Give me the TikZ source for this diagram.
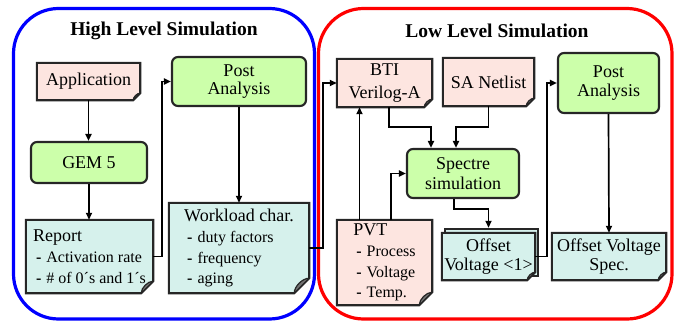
\documentclass[tikz,border=0pt]{standalone}
\usepackage{fontspec}
\setmainfont{Liberation Serif}
\usetikzlibrary{arrows.meta,backgrounds,calc}
\definecolor{pinkf}{RGB}{253,229,224}
\definecolor{greenf}{RGB}{204,255,170}
\definecolor{cyanf}{RGB}{214,241,236}
\newcommand\headfont{\fontsize{18}{20.5}\selectfont}
\newcommand\litem[1]{\hspace*{3pt}\textbf{-}\hspace{5pt}#1}
\newcommand\docframe[3]{%
  \begin{pgfonlayer}{background}
  \filldraw[docline,fill=#2] (#1.north west) -- (#1.north east) -- ([yshift=#3pt]#1.south east)
     -- ([xshift=-#3pt]#1.south east) -- (#1.south west) -- cycle;
  \filldraw[docline,line width=1.2pt,fill=black!55,line join=round] ([xshift=-#3pt]#1.south east)
     .. controls ([xshift=-1.0*#3pt,yshift=0.45*#3pt]#1.south east) and ([xshift=-0.45*#3pt,yshift=1.0*#3pt]#1.south east)
     .. ([yshift=#3pt]#1.south east) -- cycle;
  \end{pgfonlayer}}
\tikzset{
  docline/.style={draw=black!85, line width=2.1pt, line join=miter},
  docnode/.style={inner sep=0pt, font=\fontsize{18}{18.5}\selectfont, align=center},
  listnode/.style={inner sep=0pt, font=\fontsize{16}{20.5}\selectfont, align=left},
  rbox/.style={draw=black!85, line width=2.1pt, rounded corners=6pt, fill=greenf, inner sep=0pt,
     font=\fontsize{18}{18.5}\selectfont, align=center},
  arr/.style={line width=1.7pt, -{Triangle[length=7pt,width=6pt]}},
  frame/.style={line width=3.2pt, rounded corners=45pt},
  titletext/.style={font=\fontsize{19.5}{22}\selectfont\bfseries, anchor=base}
}
\begin{document}
\begin{tikzpicture}[x=1pt,y=-1pt]
\useasboundingbox (0,0) rectangle (683,324);
\draw[frame,draw=blue] (13.5,8.5) rectangle (314.5,319);
\draw[frame,draw=red] (318.5,8.5) rectangle (672,319);
\node[titletext] (t1) at (164,35) {High Level Simulation};
\node[titletext] (t2) at (497,37) {Low Level Simulation};

% high level
\node[docnode, minimum width=103pt, minimum height=37pt] (app) at (88.5,81.5) {Application};
\node[rbox, minimum width=116pt, minimum height=41pt] (gem) at (89,162.5) {GEM 5};
\node[rbox, minimum width=134pt, minimum height=49pt] (postL) at (239,81.5) {Post\\Analysis};
\node[listnode, minimum width=127pt, minimum height=73pt] (rep) at (89.5,256.5)
  {{\headfont Report}\\[1pt]\litem{Activation rate}\\\litem{\# of 0´s and 1´s}};
\node[listnode, minimum width=140pt, minimum height=90pt] (work) at (239,248)
  {{\headfont Workload char.}\\[1pt]\litem{duty factors}\\\litem{frequency}\\\litem{aging}};

% low level
\node[docnode, minimum width=95pt, minimum height=48pt] (bti) at (384.5,83) {BTI\\[4pt]Verilog-A};
\node[docnode, minimum width=91pt, minimum height=48pt] (sa) at (488.5,82) {SA Netlist};
\node[rbox, minimum width=101pt, minimum height=60pt] (postR) at (608.5,83) {Post\\Analysis};
\node[rbox, minimum width=112pt, minimum height=49pt] (spec) at (463,173.5) {Spectre\\[1pt]simulation};
\node[listnode, minimum width=95pt, minimum height=85pt] (pvt) at (384.5,262.5)
  {{\headfont PVT}\\[1pt]\litem{Process}\\\litem{Voltage}\\\litem{Temp.}};
\node[docnode, minimum width=93pt, minimum height=47pt] (off1) at (488.5,256.5) {Offset\\Voltage <1>};
\node[docnode, minimum width=114pt, minimum height=47pt] (spec2) at (609,256.5) {Offset Voltage\\Spec.};

\docframe{app}{pinkf}{7}
\docframe{rep}{cyanf}{12}
\docframe{work}{cyanf}{15}
\docframe{bti}{pinkf}{8}
\docframe{sa}{pinkf}{8}
\docframe{pvt}{pinkf}{13}
\begin{pgfonlayer}{background}
\filldraw[docline,fill=cyanf] ([shift={(3pt,4pt)}]off1.north west) rectangle ([shift={(3pt,4pt)}]off1.south east);
\end{pgfonlayer}
\docframe{off1}{cyanf}{8}
\docframe{spec2}{cyanf}{8}

% arrows
\draw[arr] (app.south) -- (app.south |- gem.north);
\draw[arr] (gem.south) -- (gem.south |- rep.north);
\draw[arr] (rep.east) -- ++(9,0) |- (postL.west);
\draw[arr] (postL.south) -- (work.north);
\draw[arr] (work.east) -- ++(14,0) |- (bti.west);
\draw[arr] ([xshift=4.5pt]bti.south) -- ++(0,20) -| ([xshift=-32pt]spec.north);
\draw[arr] (sa.south) -- ++(0,21) -| ([xshift=-7pt]spec.north);
\draw[arr] ([xshift=-25pt]pvt.north) -- ([xshift=-25pt]bti.south);
\draw[arr] ([xshift=6.5pt]pvt.north) |- (spec.west);
\draw[arr] ([xshift=-9pt]spec.south) -- ++(0,10) -| ([yshift=5pt]off1.north);
\draw[arr] (off1.east) -- ++(12,0) |- (postR.west);
\draw[arr] (postR.south) -- (spec2.north);
\end{tikzpicture}
\end{document}
